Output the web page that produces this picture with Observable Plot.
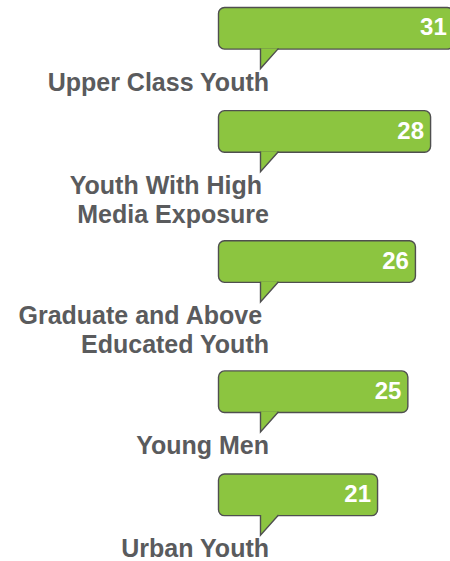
<!DOCTYPE html>
<html>
<head>
<meta charset="utf-8">
<script src="https://cdn.jsdelivr.net/npm/d3@7"></script>
<script src="https://cdn.jsdelivr.net/npm/@observablehq/plot@0.6"></script>
<style>
  html, body { margin: 0; padding: 0; background: #ffffff; }
  #chart svg { display: block; }
</style>
</head>
<body>
<div id="chart"></div>
<script>
// Data
const categories = [
  "Upper Class Youth",
  "Youth With High\u00a0\nMedia Exposure",
  "Graduate and Above\u00a0\nEducated Youth",
  "Young Men",
  "Urban Youth"
];
const values = [31, 28, 26, 25, 21];

// Layout in "label line" units (derived from number of label lines)
const BUBBLE = 1.54;   // bubble height
const BASE = 2.82;     // bubble + tail + gap
let cursor = 0;
const rows = categories.map((label, i) => {
  const lines = label.split("\n").length;
  const row = {label, value: values[i], top: cursor, bottom: cursor + BUBBLE};
  cursor += BASE + lines;
  return row;
});

const GREEN = "#8cc540";
const EDGE = "#4f4f4f";
const GREY = "#5a5b5d";

// Speech-bubble tail drawn as a custom symbol anchored at the bubble's bottom-left
const tail = {
  draw(ctx) {
    ctx.moveTo(41.5, -1.2);
    ctx.lineTo(41.5, 19);
    ctx.lineTo(59.5, -1.2);
  }
};

const chart = Plot.plot({
  width: 450,
  height: 561,
  margin: 0,
  style: {background: "#ffffff", fontFamily: "'Liberation Sans', Arial, sans-serif"},
  x: {domain: [0, 31], range: [218.5, 453.3], axis: null},
  y: {domain: [0, 20], range: [7.5, 547.5], axis: null},
  marks: [
    Plot.rect(rows, {
      x1: 0, x2: "value", y1: "top", y2: "bottom",
      rx: 6, fill: GREEN, stroke: EDGE, strokeWidth: 1.4
    }),
    Plot.dot(rows, {
      x: 0, y: "bottom", symbol: tail,
      fill: GREEN, stroke: EDGE, strokeWidth: 1.4, strokeLinejoin: "miter"
    }),
    Plot.text(rows, {
      x: "value", y: (d) => (d.top + d.bottom) / 2, text: (d) => String(d.value),
      textAnchor: "end", dx: -7, dy: -1, fill: "#ffffff",
      fontSize: 24, fontWeight: "bold"
    }),
    Plot.text(rows, {
      x: 0, y: "bottom", text: "label",
      textAnchor: "end", lineAnchor: "top", dx: 50, dy: 20.5,
      lineHeight: 1.16, fill: GREY, fontSize: 25, fontWeight: "bold"
    })
  ]
});

document.getElementById("chart").appendChild(chart);
</script>
</body>
</html>
